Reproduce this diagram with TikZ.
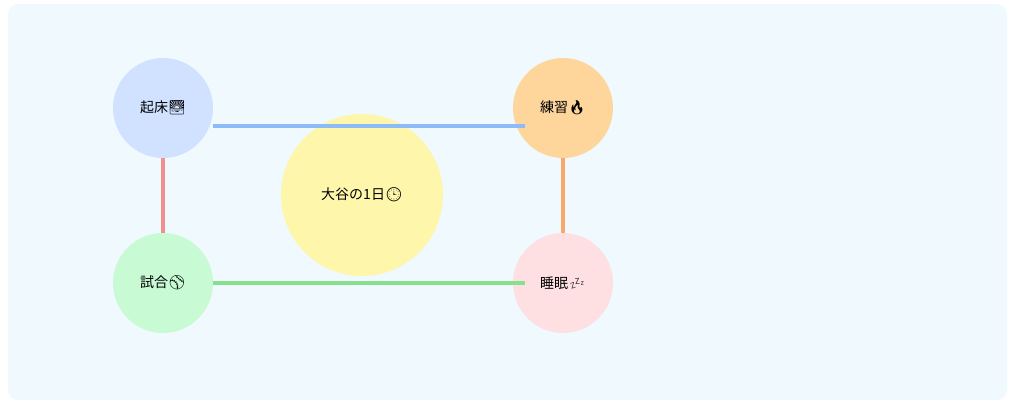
\documentclass[tikz,border=0pt]{standalone}
\usepackage{fontspec}
\setmainfont{Noto Sans CJK JP}
\newfontfamily\emo{Noto Emoji}
\definecolor{bg}{HTML}{EFF9FE}
\definecolor{cA}{HTML}{D0E2FF}
\definecolor{cB}{HTML}{FED59B}
\definecolor{cC}{HTML}{C8FAD4}
\definecolor{cD}{HTML}{FEE0E3}
\definecolor{cE}{HTML}{FEF6AA}
\definecolor{lA}{HTML}{8CBBF8}
\definecolor{lB}{HTML}{F9A86C}
\definecolor{lC}{HTML}{F28E8E}
\definecolor{lD}{HTML}{86E08E}
\begin{document}
\begin{tikzpicture}[x=1pt,y=-1pt,
  circ/.style={circle,minimum size=100pt,inner sep=0pt,font=\fontsize{14}{16}\selectfont},
  conn/.style={line width=3.5pt}]
\useasboundingbox (0,0) rectangle (1012,403);
\fill[bg,rounded corners=10pt] (8,4) rectangle (1007,400);
\node[circ,fill=cE,minimum size=162pt] (c) at (362,195) {大谷の1日{\emo 🕒}};
\node[circ,fill=cA] (a) at (163,108) {起床{\emo 🌅}};
\node[circ,fill=cB] (b) at (563,108) {練習{\emo 🔥}};
\node[circ,fill=cC] (s) at (163,283) {試合{\emo ⚾}};
\node[circ,fill=cD] (d) at (563,283) {睡眠{\emo 💤}};
\coordinate (a1) at (213,126); \coordinate (b1) at (525,126);
\coordinate (s1) at (213,283); \coordinate (d1) at (525,283);
\draw[conn,lA] (a1) -- (b1);
\draw[conn,lC] (a.south) -- (s.north);
\draw[conn,lB] (b.south) -- (d.north);
\draw[conn,lD] (s1) -- (d1);
\end{tikzpicture}
\end{document}
